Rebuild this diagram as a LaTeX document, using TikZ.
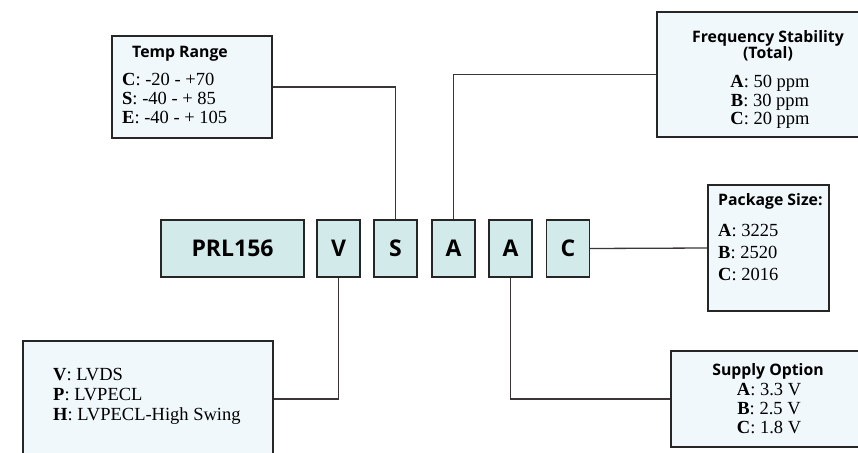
\documentclass[tikz,border=0pt]{standalone}
\usepackage{fontspec}
\setmainfont{Liberation Serif}
\newfontfamily\bodyfont{Liberation Serif}
\newfontfamily\headfont{Open Sans}
\definecolor{boxfill}{HTML}{D3EAEA}
\definecolor{descfill}{HTML}{F0F8FB}
\definecolor{linec}{HTML}{3A3536}
\definecolor{edgec}{HTML}{262626}
\begin{document}
\begin{tikzpicture}[x=1pt,y=-1pt,
  codebox/.style={draw=edgec, line width=1.4pt, fill=boxfill, minimum height=57pt, minimum width=43pt, inner sep=0pt, font=\headfont\bfseries\fontsize{23}{26}\selectfont},
  descbox/.style={draw=edgec, line width=1.4pt, fill=descfill, inner sep=0pt},
  head/.style={font=\headfont\bfseries\fontsize{15.8}{18}\selectfont, anchor=base west, inner sep=0pt},
  headc/.style={head, anchor=base},
  body/.style={font=\bodyfont\fontsize{18.5}{20}\selectfont, anchor=base west, inner sep=0pt},
  bodyc/.style={body, anchor=base},
  conn/.style={draw=linec, line width=1.3pt}]
\useasboundingbox (0,0) rectangle (858,452);
% description boxes
\node[descbox, minimum width=160pt, minimum height=102pt] (temp) at (192,87) {};
\node[descbox, minimum width=223pt, minimum height=125pt] (freq) at (768.5,74.5) {};
\node[descbox, minimum width=121pt, minimum height=126pt] (pkg) at (768.5,248) {};
\node[descbox, minimum width=250pt, minimum height=116pt] (outp) at (148,399) {};
\node[descbox, minimum width=209pt, minimum height=96pt] (supp) at (775.5,399) {};
% code boxes
\node[codebox, minimum width=143pt] (prl) at (232.5,248.5) {PRL156};
\node[codebox] (cv) at (338.5,248.5) {V};
\node[codebox] (cs) at (395.5,248.5) {S};
\node[codebox] (ca) at (453.5,248.5) {A};
\node[codebox] (cb) at (510.5,248.5) {A};
\node[codebox] (cc) at (568,248.5) {C};
% connectors
\draw[conn] (temp.east) -| (cs.north);
\draw[conn] (freq.west) -| (ca.north);
\draw[conn] (cc.east) -- (pkg.west);
\draw[conn] (cv.south) |- (outp.east);
\draw[conn] (cb.south) |- (supp.west);
% texts: temp range
\node[head] (th) at (132,58) {Temp Range};
\node[body] (t1) at (122,85) {\textbf{C}: -20 - +70};
\node[body] (t2) at (122,104) {\textbf{S}: -40 - + 85};
\node[body] (t3) at (122,123) {\textbf{E}: -40 - + 105};
% frequency stability
\node[headc] (fh1) at (768,42) {Frequency Stability};
\node[headc] (fh2) at (768,59) {(Total)};
\node[bodyc] (f1) at (770,87.5) {\textbf{A}: 50 ppm};
\node[bodyc] (f2) at (770,106) {\textbf{B}: 30 ppm};
\node[bodyc] (f3) at (770,124.5) {\textbf{C}: 20 ppm};
% package size
\node[head] (ph) at (718,205) {Package Size:};
\node[body] (p1) at (718,236) {\textbf{A}: 3225};
\node[body] (p2) at (718,258) {\textbf{B}: 2520};
\node[body] (p3) at (718,280) {\textbf{C}: 2016};
% output
\node[body] (o1) at (53,380) {\textbf{V}: LVDS};
\node[body] (o2) at (53,400) {\textbf{P}: LVPECL};
\node[body] (o3) at (53,420) {\textbf{H}: LVPECL-High Swing};
% supply
\node[headc] (sh) at (768,375) {Supply Option};
\node[bodyc] (s1) at (769,395) {\textbf{A}: 3.3 V};
\node[bodyc] (s2) at (769,414) {\textbf{B}: 2.5 V};
\node[bodyc] (s3) at (769,433) {\textbf{C}: 1.8 V};
\end{tikzpicture}
\end{document}
